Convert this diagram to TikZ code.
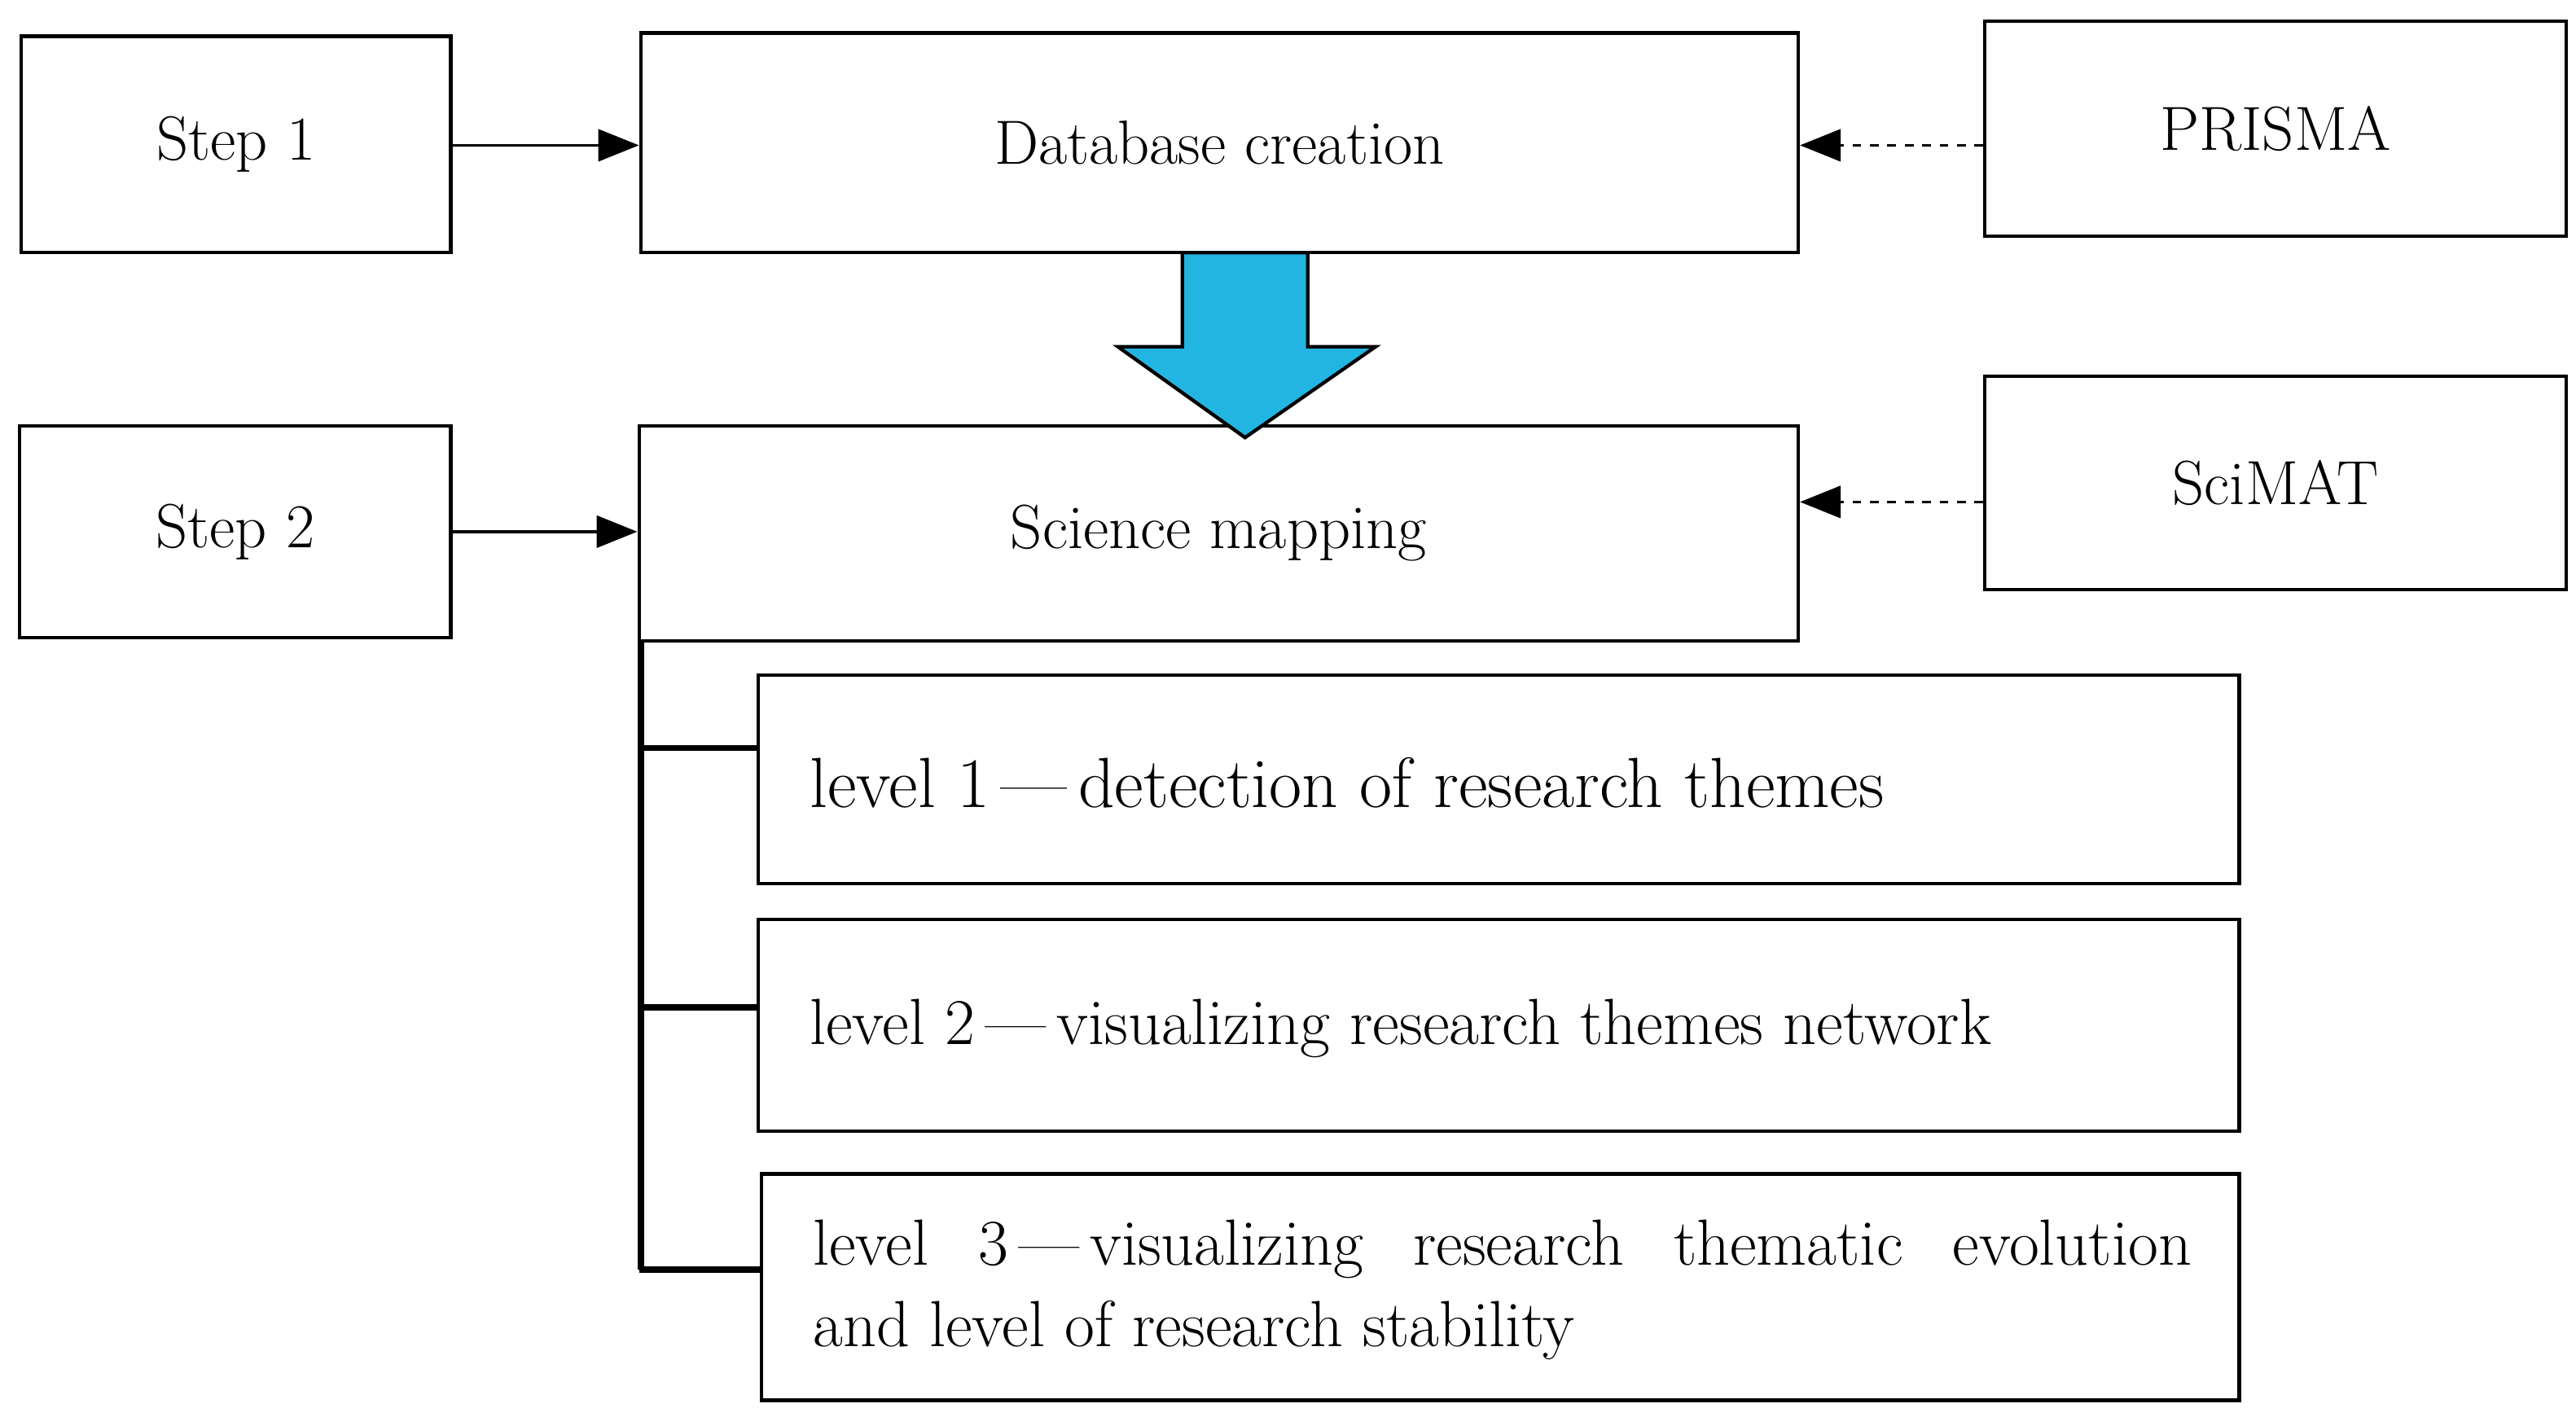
\documentclass[tikz,border=0pt]{standalone}
\usetikzlibrary{arrows.meta}
\begin{document}
\begin{tikzpicture}[x=0.02cm,y=-0.02cm,
  bx/.style={draw,line width=1.2pt,inner sep=0pt,font=\fontsize{21.5}{25}\selectfont},
  ar/.style={line width=1pt,-{Triangle[length=14pt,width=11pt]}},
  da/.style={ar,dashed}]
\useasboundingbox (0,0) rectangle (1560,858);
\node[bx,minimum width=260*0.02cm,minimum height=131*0.02cm] (s1) at (143,87.5) {Step 1};
\node[bx,minimum width=701*0.02cm,minimum height=133*0.02cm] (db) at (738.5,86.5) {Database creation};
\node[bx,minimum width=352*0.02cm,minimum height=130*0.02cm] (pr) at (1378,78) {PRISMA};
\node[bx,minimum width=261*0.02cm,minimum height=128*0.02cm] (s2) at (142.5,322) {Step 2};
\node[bx,minimum width=702*0.02cm,minimum height=130*0.02cm] (sm) at (738,323) {Science mapping};
\node[bx,minimum width=352*0.02cm,minimum height=129*0.02cm] (sc) at (1378,292.5) {SciMAT};
\node[draw,line width=1.2pt,minimum width=897*0.02cm,minimum height=126*0.02cm] (l1) at (907.5,472) {};
\node[anchor=west,font=\fontsize{24.5}{28}\selectfont,inner sep=0pt] (t1) at (490,474) {level 1\,---\,detection of research themes};
\node[draw,line width=1.2pt,minimum width=897*0.02cm,minimum height=128*0.02cm] (l2) at (907.5,621) {};
\node[anchor=west,font=\fontsize{22.5}{26}\selectfont,inner sep=0pt] (t2) at (490,623) {level 2\,---\,visualizing research themes network};
\node[draw,line width=1.2pt,minimum width=895*0.02cm,minimum height=137*0.02cm] (l3) at (908.5,779.5) {};
\node[anchor=west,font=\fontsize{22.5}{28}\selectfont,inner sep=0pt,align=left] (t3) at (492,781) {\makebox[16.7cm][s]{level 3\,---\,visualizing research thematic evolution}\\and level of research stability};
\draw[ar] (s1.east|-0,88) -- (db.west|-0,88);
\draw[ar] (s2.east|-0,322) -- (sm.west|-0,322);
\draw[da] (pr.west|-0,88) -- (db.east|-0,88);
\draw[da] (sc.west|-0,304) -- (sm.east|-0,304);
\draw[line width=1.2pt,fill={rgb,255:red,34;green,181;blue,226}] (716,153) -- (792,153) -- (792,210) -- (833,210) -- (754,265) -- (677,210) -- (716,210) -- cycle;
\draw[line width=2.2pt] (388,388) -- (388,769);
\draw[line width=2.2pt] (387,453) -- (l1.west|-0,453);
\draw[line width=2.2pt] (387,610) -- (l2.west|-0,610);
\draw[line width=2.2pt] (387,769) -- (l3.west|-0,769);
\end{tikzpicture}
\end{document}
